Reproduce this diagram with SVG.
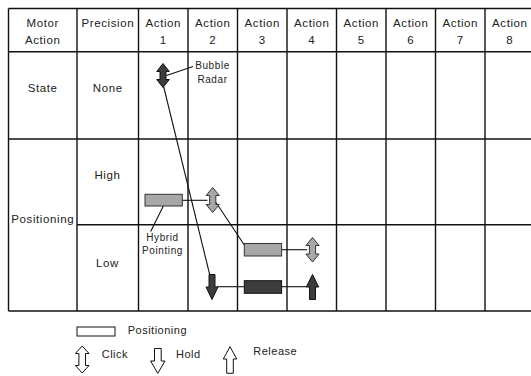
<svg xmlns="http://www.w3.org/2000/svg" width="531" height="376" viewBox="0 0 531 376">
<style>
.grid line{stroke:#111;stroke-width:1.4}
.t{font-family:"Liberation Sans",Arial,sans-serif;font-size:11.5px;letter-spacing:0.6px;fill:#222;text-anchor:middle}
.s{font-family:"Liberation Sans",Arial,sans-serif;font-size:10px;letter-spacing:0.6px;fill:#222;text-anchor:middle}
.l{font-family:"Liberation Sans",Arial,sans-serif;font-size:11px;letter-spacing:0.5px;fill:#222}
.dark{fill:#3c3c3c;stroke:#111;stroke-width:1}
.gray{fill:#a8a8a8;stroke:#333;stroke-width:1}
.white{fill:#fff;stroke:#111;stroke-width:1}
.conn line{stroke:#111;stroke-width:1.1}
</style>
<rect width="531" height="376" fill="#fff"/>
<g id="table" class="grid">
<line x1="8.5" y1="8.5" x2="535" y2="8.5"/>
<line x1="8.5" y1="51.7" x2="535" y2="51.7"/>
<line x1="8.5" y1="139" x2="535" y2="139"/>
<line x1="77" y1="224.7" x2="535" y2="224.7"/>
<line x1="8.5" y1="311" x2="535" y2="311"/>
<line x1="8.5" y1="8.5" x2="8.5" y2="311"/>
<line x1="77" y1="8.5" x2="77" y2="311"/>
<line x1="138.5" y1="8.5" x2="138.5" y2="311"/>
<line x1="188" y1="8.5" x2="188" y2="311"/>
<line x1="237.5" y1="8.5" x2="237.5" y2="311"/>
<line x1="287" y1="8.5" x2="287" y2="311"/>
<line x1="336.5" y1="8.5" x2="336.5" y2="311"/>
<line x1="386" y1="8.5" x2="386" y2="311"/>
<line x1="435.5" y1="8.5" x2="435.5" y2="311"/>
<line x1="485" y1="8.5" x2="485" y2="311"/>
</g>
<g id="headers">
<text class="t" x="42.7" y="26.5">Motor</text>
<text class="t" x="42.7" y="44">Action</text>
<text class="t" x="107.8" y="26.5">Precision</text>
<text class="t" x="163.3" y="26.5">Action</text><text class="t" x="163.3" y="44">1</text>
<text class="t" x="212.8" y="26.5">Action</text><text class="t" x="212.8" y="44">2</text>
<text class="t" x="262.3" y="26.5">Action</text><text class="t" x="262.3" y="44">3</text>
<text class="t" x="311.8" y="26.5">Action</text><text class="t" x="311.8" y="44">4</text>
<text class="t" x="361.3" y="26.5">Action</text><text class="t" x="361.3" y="44">5</text>
<text class="t" x="410.8" y="26.5">Action</text><text class="t" x="410.8" y="44">6</text>
<text class="t" x="460.3" y="26.5">Action</text><text class="t" x="460.3" y="44">7</text>
<text class="t" x="509.8" y="26.5">Action</text><text class="t" x="509.8" y="44">8</text>
<text class="t" x="42.7" y="92">State</text>
<text class="t" x="107.8" y="92">None</text>
<text class="t" x="107.5" y="179">High</text>
<text class="t" x="42.7" y="222.5">Positioning</text>
<text class="t" x="107.5" y="266.5">Low</text>
</g>
<g id="connectors" class="conn">
<line x1="166.5" y1="75.5" x2="193" y2="66.5"/>
<line x1="163.5" y1="86" x2="212" y2="284"/>
<line x1="182.3" y1="200.3" x2="207.5" y2="200.3"/>
<line x1="216" y1="202.5" x2="244.3" y2="245"/>
<line x1="281.7" y1="249.7" x2="307" y2="249.7"/>
<line x1="217" y1="286.7" x2="244.3" y2="286.7"/>
<line x1="281.7" y1="286.7" x2="307" y2="286.7"/>
<line x1="163.3" y1="206" x2="150.7" y2="231.5"/>
</g>
<g id="bubble-radar-click">
<path class="dark" d="M163,63.5 L169.3,71.5 L166,71.5 L166,79.5 L169.3,79.5 L163,87.5 L156.7,79.5 L160,79.5 L160,71.5 L156.7,71.5 Z"/>
<text class="s" x="212.5" y="68.5">Bubble</text>
<text class="s" x="212.5" y="82.5">Radar</text>
</g>
<g id="hybrid-pointing">
<rect class="gray" x="145" y="194.3" width="37.3" height="11.7"/>
<text class="s" x="162.5" y="240.5">Hybrid</text>
<text class="s" x="162.5" y="253.5">Pointing</text>
</g>
<g id="click-a2">
<path class="gray" d="M212.7,187.5 L219.3,195.5 L215.8,195.5 L215.8,204.5 L219.3,204.5 L212.7,212.5 L206.1,204.5 L209.6,204.5 L209.6,195.5 L206.1,195.5 Z"/>
</g>
<g id="pos-a3-low">
<rect class="gray" x="244.3" y="243.5" width="37.3" height="12.5"/>
</g>
<g id="click-a4">
<path class="gray" d="M312.5,237.5 L319.1,245.5 L315.6,245.5 L315.6,254 L319.1,254 L312.5,262 L305.9,254 L309.4,254 L309.4,245.5 L305.9,245.5 Z"/>
</g>
<g id="hold-a2">
<path class="dark" d="M209,274.5 L215,274.5 L215,287 L218,287 L212,299.5 L206,287 L209,287 Z"/>
</g>
<g id="pos-a3-dark">
<rect class="dark" x="244.3" y="280.7" width="37.3" height="12.6"/>
</g>
<g id="release-a4">
<path class="dark" d="M312.5,274.5 L318.7,287 L315.5,287 L315.5,299.5 L309.5,299.5 L309.5,287 L306.3,287 Z"/>
</g>
<g id="legend">
<rect class="white" x="77" y="327" width="38" height="9"/>
<text class="l" x="127.7" y="334">Positioning</text>
<path class="white" d="M82.2,346 L89,353.5 L85.5,353.5 L85.5,365.5 L89,365.5 L82.2,373 L75.4,365.5 L78.9,365.5 L78.9,353.5 L75.4,353.5 Z"/>
<text class="l" x="101.7" y="357.5">Click</text>
<path class="white" d="M154.5,348.5 L161.2,348.5 L161.2,361 L165,361 L157.8,373.3 L150.6,361 L154.5,361 Z"/>
<text class="l" x="176" y="357.5">Hold</text>
<path class="white" d="M230,346.7 L236.7,359 L233.3,359 L233.3,373.3 L226.7,373.3 L226.7,359 L223.3,359 Z"/>
<text class="l" x="253.3" y="355">Release</text>
</g>
</svg>
